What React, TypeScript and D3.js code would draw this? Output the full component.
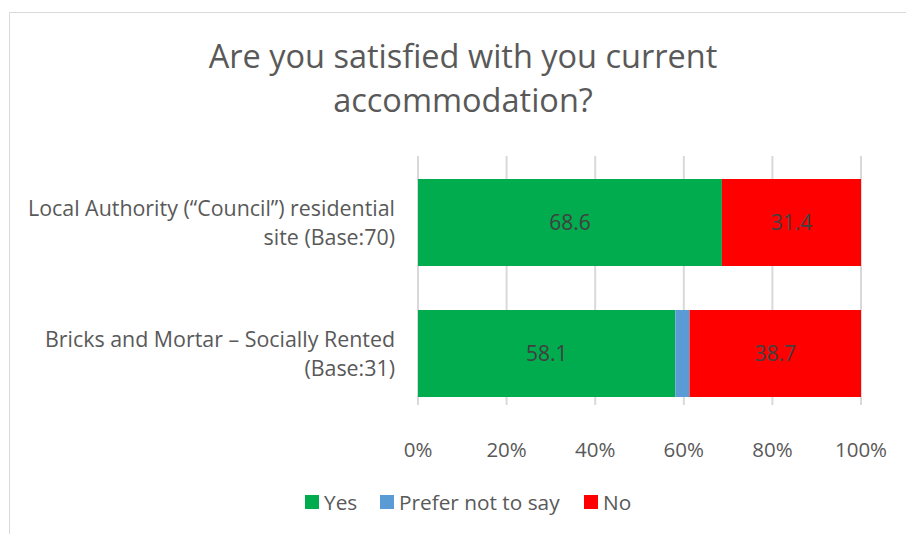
import React from "react";
import * as d3 from "d3";

const categories = ["Local Authority (“Council”) residential site (Base:70)", "Bricks and Mortar – Socially Rented (Base:31)"];
const categoryLines = [
  ["Local Authority (“Council”) residential", "site (Base:70)"],
  ["Bricks and Mortar – Socially Rented", "(Base:31)"],
];
const seriesNames = ["Yes", "Prefer not to say", "No"];
const yesValues = [68.6, 58.1];
const preferValues = [0, 3.2];
const noValues = [31.4, 38.7];
const seriesColors = ["#00AC4E", "#5B9BD5", "#FF0000"];
const tickValues = [0, 20, 40, 60, 80, 100];
const titleLines = ["Are you satisfied with you current", "accommodation?"];

const W = 906;
const H = 534;
const font = "'Open Sans', 'Liberation Sans', sans-serif";
const textColor = "#595959";

export default function App() {
  const x = d3.scaleLinear().domain([0, 100]).range([418, 861]);
  const y = d3.scaleBand().domain(categories).range([179, 397]).paddingInner(44 / 131).paddingOuter(0);
  const values = [yesValues, preferValues, noValues];
  const rows = categories.map((c, i) => ({ c, v: values.map((s) => s[i]) }));
  const stack = d3.stack<any>().keys([0, 1, 2] as any).value((d: any, k: any) => d.v[k]);
  const stacked = stack(rows as any);

  return (
    <div style={{ position: "absolute", left: 0, top: 0 }}>
      <svg width={W} height={H} style={{ display: "block" }}>
        <rect x={0} y={0} width={W} height={H} fill="#fff" />
        <path d={`M9.5,${H} L9.5,12.5 L${W},12.5`} fill="none" stroke="#d9d9d9" strokeWidth={1} />
        {titleLines.map((t, i) => (
          <text key={i} x={463} y={68 + i * 44} textAnchor="middle" fontFamily={font} fontSize={32.5} fill={textColor}>
            {t}
          </text>
        ))}
        {tickValues.map((t) => (
          <line key={t} x1={x(t)} x2={x(t)} y1={156} y2={405} stroke="#d9d9d9" strokeWidth={2} />
        ))}
        {stacked.map((layer, si) =>
          layer.map((d, ci) => {
            const w = x(d[1]) - x(d[0]);
            if (w <= 0) return null;
            return (
              <rect key={`${si}-${ci}`} x={x(d[0])} y={y(categories[ci])!} width={w} height={y.bandwidth()} fill={seriesColors[si]} />
            );
          })
        )}
        {stacked.map((layer, si) =>
          si === 1
            ? null
            : layer.map((d, ci) => (
                <text
                  key={`l${si}-${ci}`}
                  x={(x(d[0]) + x(d[1])) / 2}
                  y={y(categories[ci])! + y.bandwidth() / 2 + 7}
                  textAnchor="middle"
                  fontFamily={font}
                  fontSize={21}
                  fill="#404040"
                >
                  {(d[1] - d[0]).toFixed(1)}
                </text>
              ))
        )}
        {categoryLines.map((lines, ci) => {
          const cy = y(categories[ci])! + y.bandwidth() / 2;
          return lines.map((l, li) => (
            <text key={`${ci}-${li}`} x={395} y={cy - 7 + li * 29} textAnchor="end" fontFamily={font} fontSize={21.4} fill={textColor}>
              {l}
            </text>
          ));
        })}
        {tickValues.map((t) => (
          <text key={`t${t}`} x={x(t)} y={457} textAnchor="middle" fontFamily={font} fontSize={20.5} fill={textColor}>
            {t}%
          </text>
        ))}
        {(() => {
          const items = [
            { x: 305, label: seriesNames[0] },
            { x: 380, label: seriesNames[1] },
            { x: 584, label: seriesNames[2] },
          ];
          return items.map((it, i) => (
            <g key={i}>
              <rect x={it.x} y={495} width={14} height={14} fill={seriesColors[i]} />
              <text x={it.x + 19} y={510} fontFamily={font} fontSize={20.8} fill={textColor}>
                {it.label}
              </text>
            </g>
          ));
        })()}
      </svg>
    </div>
  );
}
